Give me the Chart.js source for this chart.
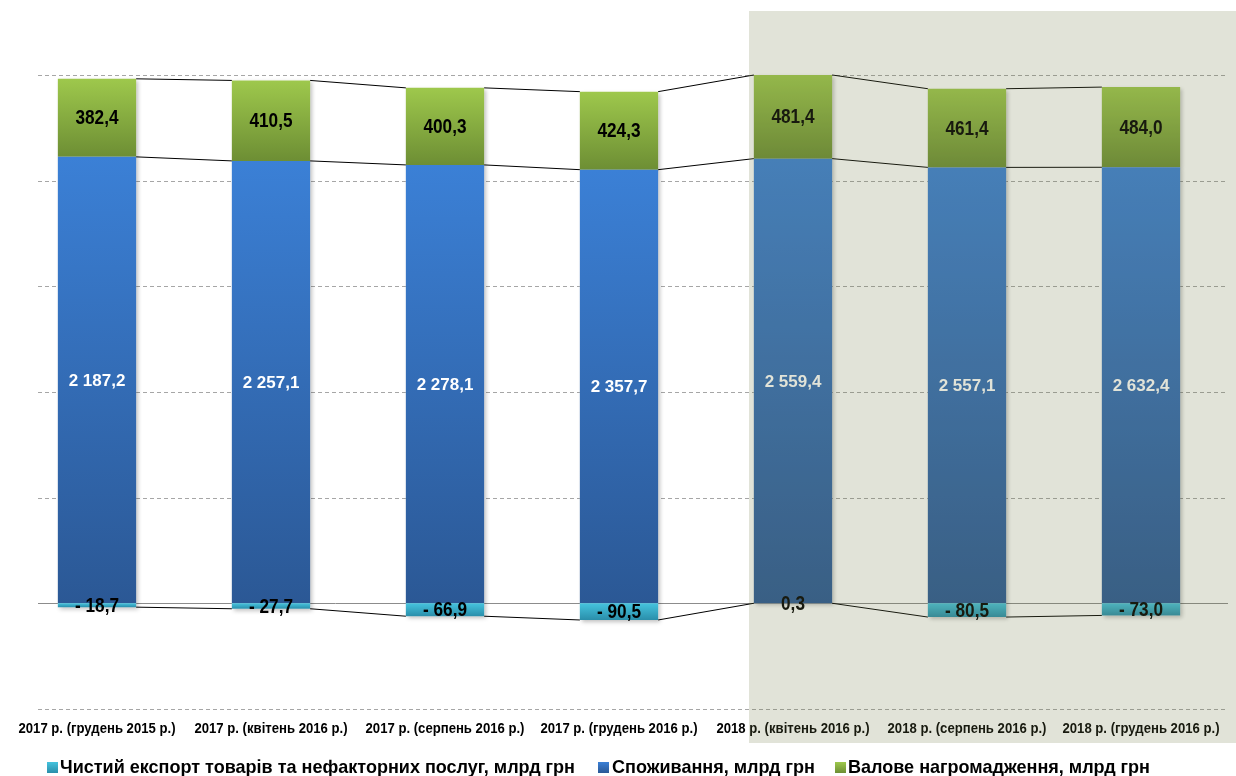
<!DOCTYPE html>
<html>
<head>
<meta charset="utf-8">
<script src="https://cdn.jsdelivr.net/npm/chart.js@4"></script>
<style>
  html, body { margin: 0; padding: 0; background: #fff; }
  #wrap { width: 1236px; height: 776px; }
</style>
</head>
<body>
<div id="wrap"><canvas id="gdpChart"></canvas></div>
<script>
const categories = [
  '2017 р. (грудень 2015 р.)',
  '2017 р. (квітень 2016 р.)',
  '2017 р. (серпень 2016 р.)',
  '2017 р. (грудень 2016 р.)',
  '2018 р. (квітень 2016 р.)',
  '2018 р. (серпень 2016 р.)',
  '2018 р. (грудень 2016 р.)'
];
const netExport = [-18.7, -27.7, -66.9, -90.5, 0.3, -80.5, -73.0];
const consumption = [2187.2, 2257.1, 2278.1, 2357.7, 2559.4, 2557.1, 2632.4];
const accumulation = [382.4, 410.5, 400.3, 424.3, 481.4, 461.4, 484.0];
const seriesNames = [
  'Чистий експорт товарів та нефакторних послуг, млрд грн',
  'Споживання, млрд грн',
  'Валове нагромадження, млрд грн'
];
const gridTicks = [-20, 0, 20, 40, 60, 80, 100];

const FONT = '"Liberation Sans", Arial, sans-serif';
const rawSeries = [netExport, consumption, accumulation];

// 100% stacked: share of each part in the sum of absolute values
const totals = categories.map((_, j) =>
  rawSeries.reduce((s, arr) => s + Math.abs(arr[j]), 0));
const pctSeries = rawSeries.map(arr => arr.map((v, j) => v / totals[j] * 100));

const gradStops = [
  ['#45c3de', '#2a8eaa'],
  ['#3b80d6', '#2b5895'],
  ['#9ec84c', '#6d8e34']
];

function fmt(v) {
  const neg = v < 0;
  const parts = Math.abs(v).toFixed(1).split('.');
  const intPart = parts[0].replace(/\B(?=(\d{3})+(?!\d))/g, ' ');
  return (neg ? '- ' : '') + intPart + ',' + parts[1];
}

// draws text squeezed horizontally (no narrow font available)
function narrowText(ctx, text, x, y, sx, align) {
  ctx.save();
  ctx.translate(x, y);
  ctx.scale(sx, 1);
  ctx.textAlign = align || 'center';
  ctx.fillText(text, 0, 0);
  ctx.restore();
}

function barFill(context) {
  const chart = context.chart;
  const ds = context.datasetIndex;
  const j = context.dataIndex;
  const y = chart.scales && chart.scales.y;
  if (!chart.chartArea || !y || j === undefined) return gradStops[ds][0];
  const v = pctSeries[ds][j];
  let start = 0;
  for (let k = 0; k < ds; k++) {
    const p = pctSeries[k][j];
    if ((p >= 0) === (v >= 0)) start += p;
  }
  const y0 = y.getPixelForValue(start);
  const y1 = y.getPixelForValue(start + v);
  const top = Math.min(y0, y1), bottom = Math.max(y0, y1);
  if (bottom - top < 1) return gradStops[ds][0];
  const g = chart.ctx.createLinearGradient(0, top, 0, bottom);
  g.addColorStop(0, gradStops[ds][0]);
  g.addColorStop(1, gradStops[ds][1]);
  return g;
}

const decorPlugin = {
  id: 'decor',
  beforeDatasetsDraw(chart) {
    const ctx = chart.ctx;
    const y = chart.scales.y;
    ctx.save();
    gridTicks.forEach(t => {
      const py = Math.round(y.getPixelForValue(t)) + 0.5;
      ctx.beginPath();
      if (t === 0) {
        ctx.setLineDash([]);
        ctx.strokeStyle = '#8c8c8c';
      } else {
        ctx.setLineDash([4, 3]);
        ctx.strokeStyle = '#a6a6a6';
      }
      ctx.lineWidth = 1;
      ctx.moveTo(38, py);
      ctx.lineTo(1228, py);
      ctx.stroke();
    });
    ctx.restore();
    // soft shadow under bars
    ctx.save();
    ctx.shadowColor = 'rgba(0,0,0,0.25)';
    ctx.shadowBlur = 4;
    ctx.shadowOffsetX = 2;
    ctx.shadowOffsetY = 2;
    chart.data.datasets.forEach((_, i) => {
      chart.getDatasetMeta(i).data.forEach(bar => {
        const h = Math.abs(bar.base - bar.y);
        ctx.fillStyle = '#ffffff';
        ctx.fillRect(bar.x - bar.width / 2, Math.min(bar.y, bar.base), bar.width, h);
      });
    });
    ctx.restore();
  },
  afterDatasetsDraw(chart) {
    const ctx = chart.ctx;
    const area = chart.chartArea;
    ctx.save();
    // series connector lines
    ctx.strokeStyle = '#000';
    ctx.lineWidth = 1;
    chart.data.datasets.forEach((_, i) => {
      const bars = chart.getDatasetMeta(i).data;
      for (let j = 0; j < bars.length - 1; j++) {
        const a = bars[j], b = bars[j + 1];
        ctx.beginPath();
        ctx.moveTo(a.x + a.width / 2, a.y);
        ctx.lineTo(b.x - b.width / 2, b.y);
        ctx.stroke();
      }
    });
    // value labels
    ctx.textBaseline = 'middle';
    chart.data.datasets.forEach((_, i) => {
      const bars = chart.getDatasetMeta(i).data;
      bars.forEach((bar, j) => {
        const cy = (bar.y + bar.base) / 2;
        if (i === 1) {
          ctx.fillStyle = '#ffffff';
          ctx.font = 'bold 17px ' + FONT;
          narrowText(ctx, fmt(rawSeries[i][j]), bar.x, cy + 1, 1.0);
        } else {
          ctx.fillStyle = '#000000';
          ctx.font = 'bold 20px ' + FONT;
          narrowText(ctx, fmt(rawSeries[i][j]), bar.x, cy + 1, 0.86);
        }
      });
    });
    // category labels
    ctx.fillStyle = '#000';
    ctx.font = 'bold 14px ' + FONT;
    const xs = chart.scales.x;
    const sx = 157 / ctx.measureText(categories[0]).width;
    categories.forEach((c, j) => {
      narrowText(ctx, c, xs.getPixelForValue(j), area.bottom + 20, sx);
    });
    ctx.restore();
  },
  afterDraw(chart) {
    const ctx = chart.ctx;
    const bars = chart.getDatasetMeta(1).data;
    const left = bars[4].x - 44;
    ctx.save();
    ctx.fillStyle = 'rgba(112, 124, 70, 0.21)';
    ctx.fillRect(left, 11, 1236 - left, 732);
    ctx.restore();

    // legend
    const items = [
      { box: 47, text: 60 },
      { box: 598, text: 612 },
      { box: 835, text: 848 }
    ];
    ctx.save();
    ctx.font = 'bold 19px ' + FONT;
    ctx.textBaseline = 'middle';
    ctx.fillStyle = '#000';
    const lsx = 515 / ctx.measureText(seriesNames[0]).width;
    const ly = 767;
    seriesNames.forEach((name, i) => {
      const g = ctx.createLinearGradient(0, ly - 5, 0, ly + 6);
      g.addColorStop(0, gradStops[i][0]);
      g.addColorStop(1, gradStops[i][1]);
      ctx.fillStyle = g;
      ctx.fillRect(items[i].box, ly - 5, 11, 11);
      ctx.fillStyle = '#000';
      narrowText(ctx, name, items[i].text, ly + 1, lsx, 'left');
    });
    ctx.restore();
  }
};

new Chart(document.getElementById('gdpChart'), {
  type: 'bar',
  data: {
    labels: categories,
    datasets: pctSeries.map((data, i) => ({
      label: seriesNames[i],
      data: data,
      backgroundColor: barFill,
      borderWidth: 0,
      barPercentage: 0.45,
      categoryPercentage: 1.0
    }))
  },
  options: {
    responsive: true,
    maintainAspectRatio: false,
    animation: false,
    layout: { padding: { top: 75, left: 10, right: 8, bottom: 67 } },
    scales: {
      x: {
        stacked: true,
        display: false
      },
      y: {
        stacked: true,
        display: false,
        min: -20,
        max: 100
      }
    },
    plugins: {
      legend: { display: false },
      tooltip: { enabled: false }
    }
  },
  plugins: [decorPlugin]
});
</script>
</body>
</html>
